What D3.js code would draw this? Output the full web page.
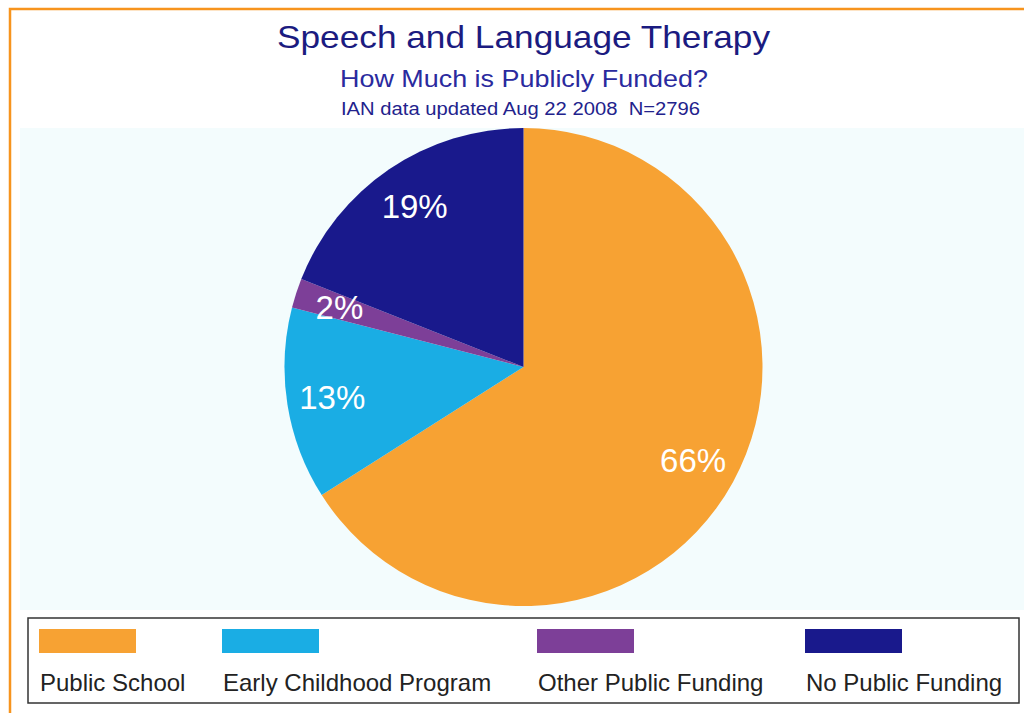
<!DOCTYPE html>
<html>
<head>
<meta charset="utf-8">
<script src="https://cdn.jsdelivr.net/npm/d3@7"></script>
<style>
  body { margin: 0; background: #fff; }
  text { font-family: "Liberation Sans", Arial, sans-serif; }
</style>
</head>
<body>
<script>
// chart data
var categories = ["Public School", "Early Childhood Program", "Other Public Funding", "No Public Funding"];
var percents = [66, 13, 2, 19];
var colors = ["#F7A233", "#1AADE4", "#7D3F98", "#19198C"];

var titleText = "Speech and Language Therapy";
var subtitleText = "How Much is Publicly Funded?";
var noteText = "IAN data updated Aug 22 2008  N=2796";

var width = 1024, height = 713;

var svg = d3.select("body")
            .append("svg")
            .attr("width", width)
            .attr("height", height);

// orange frame (top + left edges visible)
svg.append("rect")
   .attr("x", 10).attr("y", 9)
   .attr("width", 1030).attr("height", 720)
   .attr("fill", "none")
   .attr("stroke", "#F7941D")
   .attr("stroke-width", 2.5);

// plot area background
svg.append("rect")
   .attr("x", 20).attr("y", 128)
   .attr("width", 1004).attr("height", 482)
   .attr("fill", "#F3FCFD");

// titles
var titles = [
    {text: titleText, x: 523.5, y: 48, size: 32, len: 493, color: "#1B1B80"},
    {text: subtitleText, x: 524, y: 87, size: 24, len: 368, color: "#2A2A9E"},
    {text: noteText, x: 520.5, y: 115, size: 17.5, len: 359, color: "#22228C"}
];
svg.selectAll("text.title")
   .data(titles)
   .enter()
   .append("text")
   .attr("class", "title")
   .attr("x", function(d){ return d.x; })
   .attr("y", function(d){ return d.y; })
   .attr("text-anchor", "middle")
   .attr("textLength", function(d){ return d.len; })
   .attr("lengthAdjust", "spacingAndGlyphs")
   .style("font-size", function(d){ return d.size + "px"; })
   .style("white-space", "pre")
   .attr("fill", function(d){ return d.color; })
   .text(function(d){ return d.text; });

// pie
var cx = 523.5, cy = 367, radius = 239;

var pie = d3.pie()
            .sort(null)
            .value(function(d){ return d; });

var arc = d3.arc()
            .innerRadius(0)
            .outerRadius(radius);

var labelArc = d3.arc()
                 .innerRadius(radius * 0.81)
                 .outerRadius(radius * 0.81);

var slices = pie(percents);

var g = svg.append("g")
           .attr("transform", "translate(" + cx + "," + cy + ")");

g.selectAll("path")
 .data(slices)
 .enter()
 .append("path")
 .attr("d", arc)
 .attr("fill", function(d, i){ return colors[i]; });

g.selectAll("text")
 .data(slices)
 .enter()
 .append("text")
 .attr("transform", function(d){ return "translate(" + labelArc.centroid(d) + ")"; })
 .attr("text-anchor", "middle")
 .attr("dy", "0.35em")
 .style("font-size", "33px")
 .attr("fill", "#fff")
 .text(function(d){ return d.data + "%"; });

// legend
var legend = svg.append("g");

legend.append("rect")
      .attr("x", 28).attr("y", 618)
      .attr("width", 991).attr("height", 85)
      .attr("fill", "#fff")
      .attr("stroke", "#333")
      .attr("stroke-width", 1.5);

var legendX = [39, 222, 537, 805];

var items = legend.selectAll("g.item")
                  .data(categories)
                  .enter()
                  .append("g")
                  .attr("class", "item")
                  .attr("transform", function(d, i){ return "translate(" + legendX[i] + ",0)"; });

items.append("rect")
     .attr("x", 0).attr("y", 629)
     .attr("width", 97).attr("height", 24)
     .attr("fill", function(d, i){ return colors[i]; });

items.append("text")
     .attr("x", 1).attr("y", 691)
     .style("font-size", "24px")
     .attr("fill", "#222")
     .text(function(d){ return d; });
</script>
</body>
</html>
